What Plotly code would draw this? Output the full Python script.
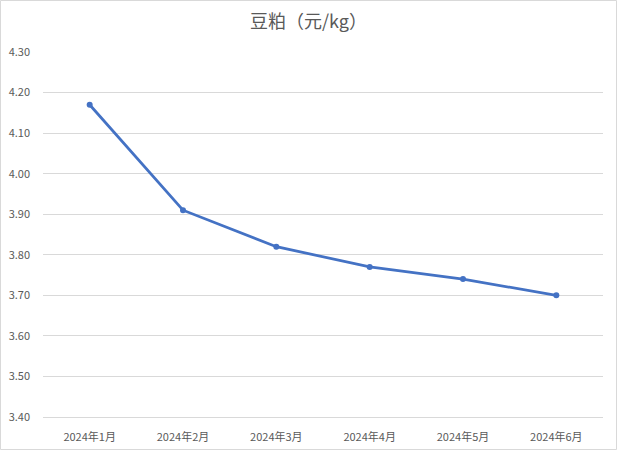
import plotly.graph_objects as go

categories = ["2024年1月", "2024年2月", "2024年3月", "2024年4月", "2024年5月", "2024年6月"]
values = [4.17, 3.91, 3.82, 3.77, 3.74, 3.70]
y_ticks = [3.40, 3.50, 3.60, 3.70, 3.80, 3.90, 4.00, 4.10, 4.20, 4.30]
title_text = "豆粕（元/kg）"

font_family = "Noto Sans CJK SC, Microsoft YaHei, sans-serif"

fig = go.Figure()
fig.add_trace(go.Scatter(
    x=categories, y=values, mode="lines+markers",
    line=dict(color="#4472C4", width=2.75),
    marker=dict(color="#4472C4", size=6),
    hoverinfo="x+y",
))

fig.update_layout(
    width=617, height=450,
    margin=dict(l=43, r=14, t=52, b=33),
    paper_bgcolor="white", plot_bgcolor="white",
    showlegend=False,
    title=dict(text=title_text, x=0.5, xanchor="center", y=1 - 22/450, yanchor="middle",
               font=dict(family=font_family, size=18, color="#595959"), automargin=False),
    font=dict(family=font_family, color="#595959", size=11),
    xaxis=dict(type="category", range=[-0.5, 5.5], showgrid=False,
               showline=True, linecolor="#D9D9D9", linewidth=1,
               zeroline=False, ticks="", tickfont=dict(size=11, color="#595959"),
               ticklabelstandoff=10, automargin=False),
    yaxis=dict(range=[3.40, 4.30], tickvals=y_ticks,
               ticktext=[f"{v:.2f}" for v in y_ticks],
               showgrid=True, gridcolor="#D9D9D9", gridwidth=1,
               zeroline=False, showline=False, ticks="",
               tickfont=dict(size=11, color="#595959"), ticklabelstandoff=12,
               automargin=False),
    shapes=[dict(type="rect", xref="paper", yref="paper", x0=-42.5/560, x1=1+13.5/560,
                 y0=-32.5/365, y1=1+51.5/365, line=dict(color="#D9D9D9", width=1),
                 fillcolor="rgba(0,0,0,0)", layer="below")],
)

fig.write_html("out.html", config={"displayModeBar": False},
               post_script="document.body.style.margin='0';document.body.style.overflow='hidden';")
